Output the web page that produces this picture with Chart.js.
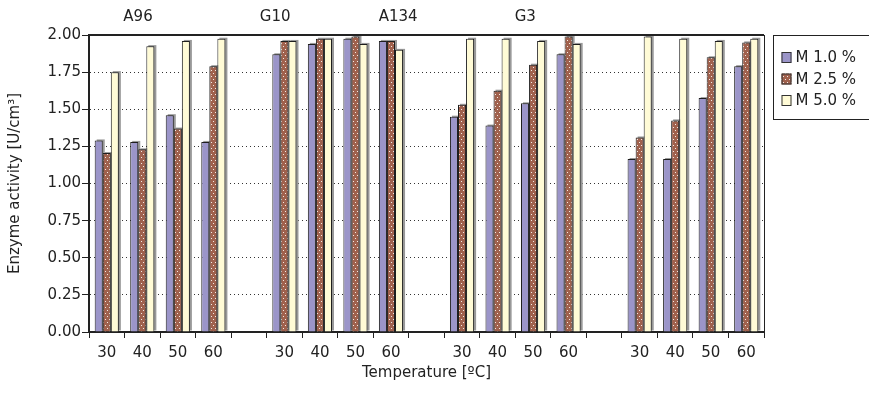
<!DOCTYPE html>
<html lang="en">
<head>
    <meta charset="UTF-8">
    <title>Enzyme activity</title>
    <script src="https://cdn.jsdelivr.net/npm/chart.js@4"></script>
    <style>
        body { margin: 0; background: #fff; }
        #wrap { width: 869px; height: 396px; }
    </style>
</head>
<body>
    <div id="wrap"><canvas id="grafico" width="869" height="396"></canvas></div>

    <script>
        // groups and temperatures
        const groups = ['A96', 'G10', 'A134', 'G3'];
        const temps = ['30', '40', '50', '60'];
        const seriesNames = ['M 1.0 %', 'M 2.5 %', 'M 5.0 %'];

        // values per group, one entry per temperature
        const m10 = [[1.29, 1.28, 1.46, 1.28], [1.87, 1.94, 1.975, 1.96], [1.45, 1.39, 1.54, 1.87], [1.165, 1.165, 1.575, 1.79]];
        const m25 = [[1.205, 1.23, 1.37, 1.79], [1.96, 1.975, 1.99, 1.96], [1.53, 1.625, 1.80, 1.99], [1.31, 1.425, 1.85, 1.95]];
        const m50 = [[1.75, 1.925, 1.96, 1.975], [1.96, 1.975, 1.94, 1.90], [1.975, 1.975, 1.96, 1.94], [1.99, 1.975, 1.96, 1.975]];

        const yTicks = [0, 0.25, 0.5, 0.75, 1, 1.25, 1.5, 1.75, 2];

        // flatten with an empty category between groups
        function flat(arr, fill) {
            const out = [];
            arr.forEach((g, i) => {
                if (i > 0) out.push(fill);
                g.forEach(v => out.push(v));
            });
            return out;
        }
        const labels = flat(groups.map(() => temps), '');

        // dotted brown pattern
        function dots() {
            const c = document.createElement('canvas');
            c.width = 4; c.height = 6;
            const x = c.getContext('2d');
            x.fillStyle = '#a0614d';
            x.fillRect(0, 0, 4, 6);
            x.fillStyle = '#f3ebe6';
            x.fillRect(1, 1, 1, 1);
            x.fillRect(3, 4, 1, 1);
            return x.createPattern(c, 'repeat');
        }
        const brown = dots();
        const fills = ['#9b95c9', brown, '#fffbd6'];

        const FONT = { family: 'DejaVu Sans', size: 15 };
        const TXT = '#222';

        // grey shadow behind bars
        const shadowPlugin = {
            id: 'shadow',
            beforeDatasetsDraw(chart) {
                const ctx = chart.ctx;
                ctx.save();
                ctx.fillStyle = '#999';
                chart.data.datasets.forEach((ds, i) => {
                    chart.getDatasetMeta(i).data.forEach((bar, j) => {
                        if (ds.data[j] == null) return;
                        const l = bar.x - bar.width / 2;
                        ctx.fillRect(l + 2, bar.y - 1, bar.width, bar.base - bar.y);
                    });
                });
                ctx.restore();
            }
        };

        // frame, group names and legend box
        const extrasPlugin = {
            id: 'extras',
            afterDraw(chart) {
                const ctx = chart.ctx;
                const a = chart.chartArea;
                const xs = chart.scales.x;
                ctx.save();
                ctx.strokeStyle = '#222';
                ctx.lineWidth = 2;
                ctx.beginPath();
                ctx.moveTo(a.left - 1, a.top);
                ctx.lineTo(a.right, a.top);
                ctx.stroke();
                ctx.lineWidth = 1;
                ctx.beginPath();
                ctx.moveTo(a.right + 0.5, a.top);
                ctx.lineTo(a.right + 0.5, a.bottom);
                ctx.stroke();

                // group names above the plot
                const pos = [0.88, 4.74, 8.2, 11.78];
                ctx.fillStyle = TXT;
                ctx.font = '15px "DejaVu Sans"';
                ctx.textAlign = 'center';
                ctx.textBaseline = 'middle';
                groups.forEach((g, i) => {
                    ctx.fillText(g, xs.getPixelForValue(pos[i]), 17);
                });

                // legend
                const lx = a.right + 9.5, ly = a.top + 0.5;
                ctx.strokeStyle = '#222';
                ctx.lineWidth = 1;
                ctx.strokeRect(lx, ly, 120, 84);
                ctx.textAlign = 'left';
                chart.data.datasets.forEach((ds, i) => {
                    const cy = ly + 22 + i * 21.5;
                    ctx.fillStyle = fills[i];
                    ctx.fillRect(lx + 8, cy - 5.5, 10, 11);
                    ctx.strokeStyle = '#333';
                    ctx.strokeRect(lx + 8.5, cy - 5, 9, 10);
                    ctx.fillStyle = TXT;
                    ctx.fillText(ds.label, lx + 22, cy + 1);
                });
                ctx.restore();
            }
        };

        const ctx = document.getElementById('grafico').getContext('2d');
        new Chart(ctx, {
            type: 'bar',
            data: {
                labels: labels,
                datasets: [m10, m25, m50].map((s, i) => ({
                    label: seriesNames[i],
                    data: flat(s, null),
                    backgroundColor: fills[i],
                    borderColor: '#1e1e1e',
                    borderWidth: 1,
                    categoryPercentage: 0.68,
                    barPercentage: 1
                }))
            },
            options: {
                responsive: false,
                animation: false,
                layout: { padding: { left: 0, right: 105, top: 35, bottom: 10 } },
                plugins: {
                    legend: { display: false },
                    tooltip: { enabled: false }
                },
                scales: {
                    x: {
                        afterFit(s) { s.height = 54; },
                        grid: { drawOnChartArea: false, offset: true, tickLength: 6, tickColor: '#222' },
                        border: { width: 2, color: '#222' },
                        ticks: { color: TXT, font: FONT, padding: 6, maxRotation: 0, autoSkip: false },
                        title: { display: true, text: 'Temperature [ºC]', color: TXT, font: FONT, padding: { top: 0, bottom: 4 } }
                    },
                    y: {
                        min: 0,
                        max: 2,
                        afterFit(s) { s.width = 89; },
                        afterBuildTicks(s) { s.ticks = yTicks.map(v => ({ value: v })); },
                        grid: {
                            color: c => (c.tick && (c.tick.value === 0 || c.tick.value === 2)) ? 'rgba(0,0,0,0)' : '#333',
                            tickLength: 7,
                            tickColor: '#222',
                            lineWidth: 1
                        },
                        border: { width: 2, color: '#222', dash: [1, 3] },
                        ticks: { color: TXT, font: FONT, padding: 1, callback: v => v.toFixed(2) },
                        title: { display: true, text: 'Enzyme activity [U/cm³]', color: TXT, font: FONT, padding: { top: 6, bottom: 0 } }
                    }
                }
            },
            plugins: [shadowPlugin, extrasPlugin]
        });
    </script>
</body>
</html>
